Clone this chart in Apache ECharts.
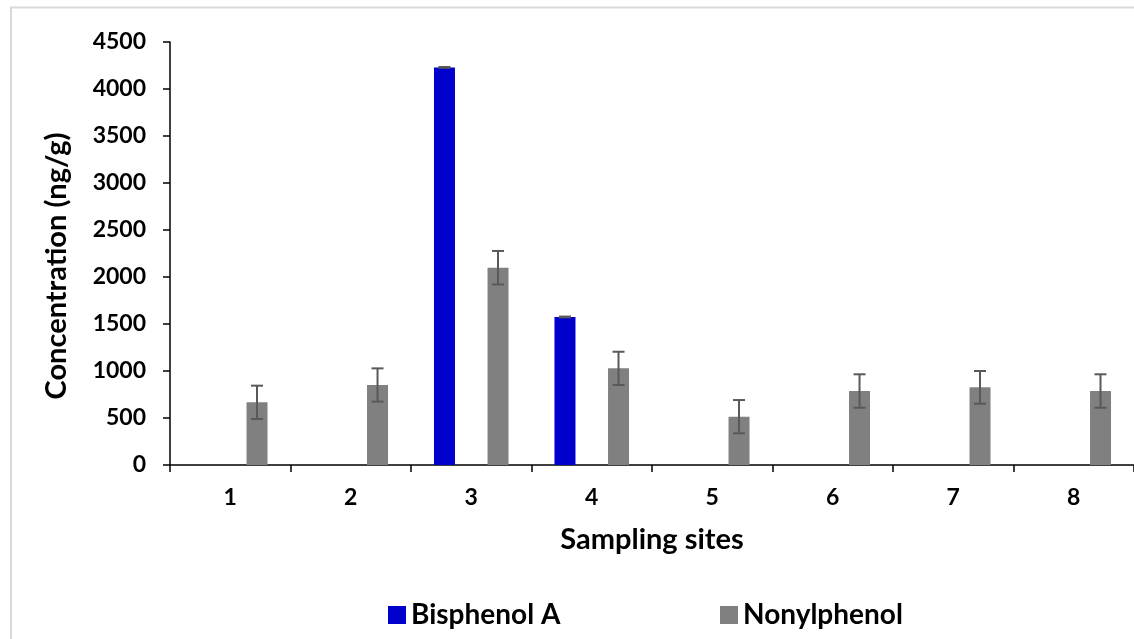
<!DOCTYPE html>
<html>
<head>
<meta charset="utf-8">
<script src="https://cdn.jsdelivr.net/npm/echarts@6/dist/echarts.min.js"></script>
<style>
  html, body { margin: 0; padding: 0; background: #fff; }
  #chart { width: 1134px; height: 639px; }
</style>
</head>
<body>
<div id="chart"></div>
<script>
// Sampling sites along the x axis
const sites = ['1', '2', '3', '4', '5', '6', '7', '8'];
// Mean concentrations (ng/g) and standard deviations
const bisphenolA = [null, null, 4230, 1575, null, null, null, null];
const bisphenolASD = [null, null, 4, 4, null, null, null, null];
const nonylphenol = [667, 851, 2099, 1028, 514, 787, 826, 787];
const nonylphenolSD = [177, 177, 178, 177, 177, 178, 174, 178];
// Value axis ticks
const yTicks = [0, 500, 1000, 1500, 2000, 2500, 3000, 3500, 4000, 4500];

const FONT = 'Lato, "Liberation Sans", sans-serif';
const BAR_W = 21;
const BAR_GAP = 1.55;
const OFFSET = (BAR_W + BAR_W * BAR_GAP) / 2;

function errorData(means, sds) {
  const out = [];
  means.forEach((m, i) => {
    if (m != null && sds[i] != null) out.push([i, m - sds[i], m + sds[i]]);
  });
  return out;
}

function errorRenderer(shift) {
  return function (params, api) {
    const i = api.value(0);
    const lo = api.coord([i, api.value(1)]);
    const hi = api.coord([i, api.value(2)]);
    const x = lo[0] + shift;
    const cap = 6;
    const style = { stroke: '#595959', lineWidth: 2 };
    return {
      type: 'group',
      children: [
        { type: 'line', shape: { x1: x, y1: lo[1], x2: x, y2: hi[1] }, style },
        { type: 'line', shape: { x1: x - cap, y1: hi[1], x2: x + cap, y2: hi[1] }, style },
        { type: 'line', shape: { x1: x - cap, y1: lo[1], x2: x + cap, y2: lo[1] }, style }
      ]
    };
  };
}

const chart = echarts.init(document.getElementById('chart'));
chart.setOption({
  animation: false,
  backgroundColor: '#fff',
  textStyle: { fontFamily: FONT },
  graphic: [
    {
      type: 'rect',
      shape: { x: 11, y: 7.5, width: 1140, height: 650 },
      style: { fill: 'none', stroke: '#d9d9d9', lineWidth: 2 },
      silent: true
    },
    {
      type: 'text',
      x: 57, y: 266,
      rotation: Math.PI / 2,
      style: {
        text: 'Concentration (ng/g)',
        font: 'bold 29px ' + FONT,
        fill: '#000',
        align: 'center',
        verticalAlign: 'middle'
      }
    }
  ],
  legend: [
    {
      data: ['Bisphenol A'],
      left: 383, top: 596,
      itemWidth: 18, itemHeight: 18, itemGap: 9,
      icon: 'rect',
      textStyle: { fontFamily: FONT, fontWeight: 'bold', fontSize: 28, color: '#000' }
    },
    {
      data: ['Nonylphenol'],
      left: 715, top: 596,
      itemWidth: 18, itemHeight: 18, itemGap: 9,
      icon: 'rect',
      textStyle: { fontFamily: FONT, fontWeight: 'bold', fontSize: 28, color: '#000' }
    }
  ],
  grid: { left: 170, top: 42, width: 964, height: 423, containLabel: false },
  xAxis: {
    type: 'category',
    data: sites,
    boundaryGap: true,
    name: 'Sampling sites',
    nameLocation: 'middle',
    nameGap: 60,
    nameTextStyle: { fontFamily: FONT, fontWeight: 'bold', fontSize: 29, color: '#000', verticalAlign: 'top' },
    axisLine: { lineStyle: { color: '#000', width: 1.5 } },
    axisTick: { show: true, length: 7, lineStyle: { color: '#000', width: 1.5 } },
    axisLabel: { fontFamily: FONT, fontWeight: 'bold', fontSize: 23, color: '#000', margin: 21 }
  },
  yAxis: {
    type: 'value',
    min: yTicks[0],
    max: yTicks[yTicks.length - 1],
    interval: yTicks[1] - yTicks[0],
    splitLine: { show: false },
    axisLine: { show: true, lineStyle: { color: '#000', width: 1.5 } },
    axisTick: { show: true, length: 7, lineStyle: { color: '#000', width: 1.5 } },
    axisLabel: {
      fontFamily: FONT, fontWeight: 'bold', fontSize: 23, color: '#000', margin: 24,
      formatter: (v) => String(v)
    }
  },
  series: [
    {
      name: 'Bisphenol A',
      type: 'bar',
      data: bisphenolA,
      barWidth: BAR_W,
      barGap: (BAR_GAP * 100) + '%',
      itemStyle: { color: '#0000CC' }
    },
    {
      name: 'Nonylphenol',
      type: 'bar',
      data: nonylphenol,
      barWidth: BAR_W,
      barGap: (BAR_GAP * 100) + '%',
      itemStyle: { color: '#808080' }
    },
    {
      name: 'BPA error',
      type: 'custom',
      renderItem: errorRenderer(-OFFSET),
      data: errorData(bisphenolA, bisphenolASD),
      encode: { x: 0, y: [1, 2] },
      z: 5
    },
    {
      name: 'NP error',
      type: 'custom',
      renderItem: errorRenderer(OFFSET),
      data: errorData(nonylphenol, nonylphenolSD),
      encode: { x: 0, y: [1, 2] },
      z: 5
    }
  ]
});
</script>
</body>
</html>
